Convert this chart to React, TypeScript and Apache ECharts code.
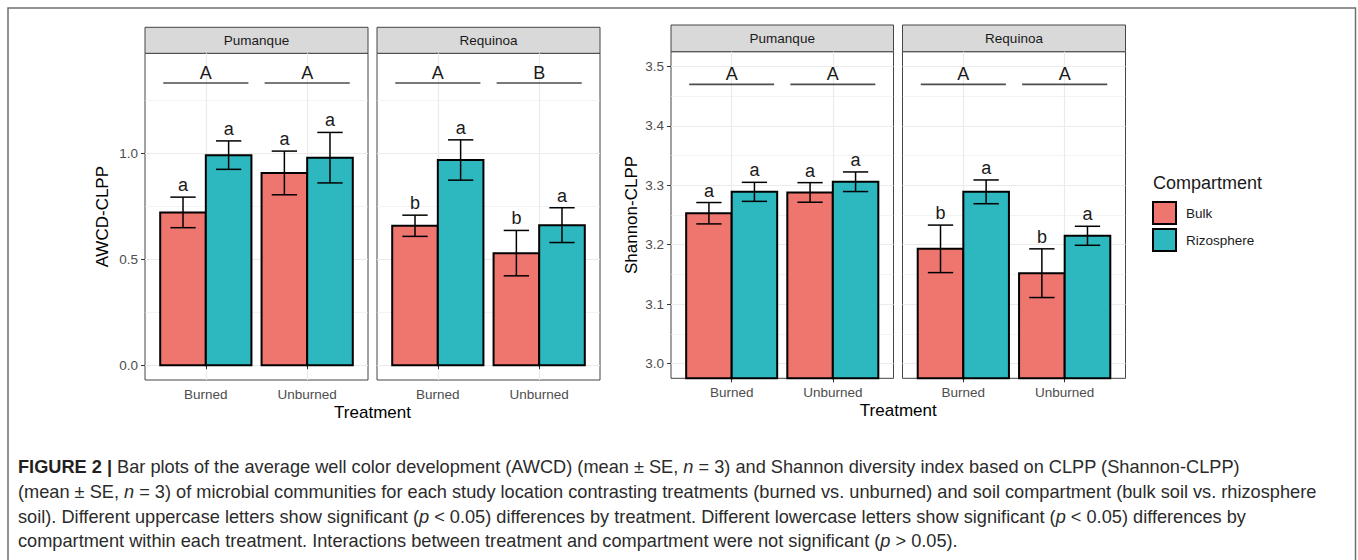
import React, { useEffect, useRef } from "react";
import * as echarts from "echarts";

// ---------- data ----------
const treatments = ["Burned", "Unburned"];
const sites = ["Pumanque", "Requinoa"];
const compartments = ["Bulk", "Rizosphere"];

// AWCD-CLPP: [site][treatment]
const awcdBulkMean = [[0.72, 0.906], [0.657, 0.528]];
const awcdBulkSE = [[0.072, 0.103], [0.05, 0.107]];
const awcdRizoMean = [[0.99, 0.978], [0.967, 0.66]];
const awcdRizoSE = [[0.067, 0.119], [0.095, 0.082]];
const awcdBulkLetters = [["a", "a"], ["b", "b"]];
const awcdRizoLetters = [["a", "a"], ["a", "a"]];
const awcdTreatLetters = [["A", "A"], ["A", "B"]];
const awcdTreatLineY = 1.33;
const awcdTicks = [0, 0.5, 1.0];
const awcdMinor = [0.25, 0.75, 1.25];

// Shannon-CLPP: [site][treatment]
const shanBulkMean = [[3.253, 3.288], [3.193, 3.152]];
const shanBulkSE = [[0.018, 0.0165], [0.04, 0.041]];
const shanRizoMean = [[3.289, 3.306], [3.289, 3.215]];
const shanRizoSE = [[0.016, 0.0165], [0.02, 0.016]];
const shanBulkLetters = [["a", "a"], ["b", "b"]];
const shanRizoLetters = [["a", "a"], ["a", "a"]];
const shanTreatLetters = [["A", "A"], ["A", "A"]];
const shanTreatLineY = 3.47;
const shanTicks = [3.0, 3.1, 3.2, 3.3, 3.4, 3.5];
const shanMinor = [3.05, 3.15, 3.25, 3.35, 3.45];

const captionLines = [
  "{b|FIGURE 2 |} Bar plots of the average well color development (AWCD) (mean ± SE, {i|n} = 3) and Shannon diversity index based on CLPP (Shannon-CLPP)",
  "(mean ± SE, {i|n} = 3) of microbial communities for each study location contrasting treatments (burned vs. unburned) and soil compartment (bulk soil vs. rhizosphere",
  "soil). Different uppercase letters show significant ({i|p} < 0.05) differences by treatment. Different lowercase letters show significant ({i|p} < 0.05) differences by",
  "compartment within each treatment. Interactions between treatment and compartment were not significant ({i|p} > 0.05).",
];

// ---------- styling / layout ----------
const FONT = "'Liberation Sans', Arial, Helvetica, sans-serif";
const CAP_FONT = "'Liberation Sans Narrow', 'Arial Narrow', 'Liberation Sans', sans-serif";
const CAP_SIZE = 18.2;
const BULK_COLOR = "#EF766F";
const RIZO_COLOR = "#2DB7BF";

const charts = [
  {
    yMin: -0.07, yMax: 1.47, ticks: awcdTicks, minor: awcdMinor,
    bulk: awcdBulkMean, bulkSE: awcdBulkSE, rizo: awcdRizoMean, rizoSE: awcdRizoSE,
    bulkL: awcdBulkLetters, rizoL: awcdRizoLetters, treatL: awcdTreatLetters, lineY: awcdTreatLineY,
    panels: [{ left: 145, width: 223 }, { left: 377, width: 223 }],
    top: 53.3, bottom: 380, stripTop: 27.3,
    yTitle: "AWCD-CLPP", yTitleX: 102, xTitleY: 412,
  },
  {
    yMin: 2.975, yMax: 3.525, ticks: shanTicks, minor: shanMinor,
    bulk: shanBulkMean, bulkSE: shanBulkSE, rizo: shanRizoMean, rizoSE: shanRizoSE,
    bulkL: shanBulkLetters, rizoL: shanRizoLetters, treatL: shanTreatLetters, lineY: shanTreatLineY,
    panels: [{ left: 671, width: 222.5 }, { left: 902.5, width: 223 }],
    top: 51.7, bottom: 378.3, stripTop: 25,
    yTitle: "Shannon-CLPP", yTitleX: 631.5, xTitleY: 410,
  },
];

function buildOption() {
  const grid: any[] = [];
  const xAxis: any[] = [];
  const yAxis: any[] = [];
  const series: any[] = [];
  const graphic: any[] = [];

  // figure frame
  graphic.push({
    type: "polyline",
    shape: { points: [[8, 600], [8, 8], [1355.5, 8], [1355.5, 600]] },
    style: { stroke: "#6f6f6f", lineWidth: 1.5, fill: "none" },
    silent: true,
  });

  charts.forEach((c, ci) => {
    c.panels.forEach((p, si) => {
      const gi = ci * 2 + si;
      grid.push({
        left: p.left, top: c.top, width: p.width, height: c.bottom - c.top,
        show: true, backgroundColor: "#ffffff", borderColor: "#444444", borderWidth: 1,
        containLabel: false,
      });
      xAxis.push({
        type: "value", gridIndex: gi, min: 0.4, max: 2.6,
        axisLine: { show: false },
        axisTick: { show: true, customValues: [1, 2], length: 4, lineStyle: { color: "#333", width: 1 } },
        axisLabel: {
          show: true, customValues: [1, 2], margin: 7,
          formatter: (v: number) => treatments[Math.round(v) - 1] ?? "",
          color: "#4d4d4d", fontSize: 13.5, fontFamily: FONT,
        },
        splitLine: { show: true, lineStyle: { color: "#ebebeb", width: 1.2 } },
      });
      const showY = si === 0;
      yAxis.push({
        type: "value", gridIndex: gi, min: c.yMin, max: c.yMax,
        axisLine: { show: false },
        axisTick: { show: showY, customValues: c.ticks, length: 4, lineStyle: { color: "#333", width: 1 } },
        axisLabel: {
          show: showY, customValues: c.ticks, margin: 7,
          formatter: (v: number) => v.toFixed(1),
          color: "#4d4d4d", fontSize: 13.5, fontFamily: FONT,
        },
        splitLine: { show: true, lineStyle: { color: "#ebebeb", width: 1.2 } },
      });
      yAxis.push({
        type: "value", gridIndex: gi, min: c.yMin, max: c.yMax,
        axisLine: { show: false },
        axisTick: { show: false, customValues: c.minor },
        axisLabel: { show: false, customValues: c.minor },
        splitLine: { show: true, lineStyle: { color: "#ebebeb", width: 0.6 } },
      });

      // strip
      graphic.push({
        type: "rect",
        shape: { x: p.left, y: c.stripTop, width: p.width, height: c.top - c.stripTop },
        style: { fill: "#d9d9d9", stroke: "#444444", lineWidth: 1 },
        silent: true,
      });
      graphic.push({
        type: "text",
        x: p.left + p.width / 2, y: (c.stripTop + c.top) / 2,
        style: {
          text: sites[si], fontSize: 13.5, fontFamily: FONT, fill: "#1a1a1a",
          textAlign: "center", textVerticalAlign: "middle", align: "center", verticalAlign: "middle",
        },
        silent: true,
      });

      // bars + error bars + letters per compartment
      compartments.forEach((comp, k) => {
        const means = k === 0 ? c.bulk : c.rizo;
        const ses = k === 0 ? c.bulkSE : c.rizoSE;
        const letters = k === 0 ? c.bulkL : c.rizoL;
        const offset = k === 0 ? -0.225 : 0.225;
        series.push({
          type: "custom",
          name: comp,
          xAxisIndex: gi,
          yAxisIndex: gi * 2,
          itemStyle: { color: k === 0 ? BULK_COLOR : RIZO_COLOR },
          encode: { x: 0, y: 1 },
          data: treatments.map((t, j) => [j + 1, means[si][j], ses[si][j]]),
          z: 3 + k,
          renderItem: (params: any, api: any) => {
            const xc = api.value(0) + offset;
            const m = api.value(1);
            const se = api.value(2);
            const cs = params.coordSys;
            const p0 = api.coord([xc - 0.225, m]);
            const p1 = api.coord([xc + 0.225, 0]);
            const rect = echarts.graphic.clipRectByRect(
              { x: p0[0], y: p0[1], width: p1[0] - p0[0], height: p1[1] - p0[1] },
              { x: cs.x, y: cs.y, width: cs.width, height: cs.height }
            );
            const top = api.coord([xc, m + se]);
            const bot = api.coord([xc, m - se]);
            const wl = api.coord([xc - 0.125, m])[0];
            const wr = api.coord([xc + 0.125, m])[0];
            const ls = { stroke: "#000", lineWidth: 1.5 };
            return {
              type: "group",
              children: [
                rect && {
                  type: "rect",
                  shape: rect,
                  style: { fill: k === 0 ? BULK_COLOR : RIZO_COLOR, stroke: "#000", lineWidth: 2 },
                },
                { type: "line", shape: { x1: top[0], y1: top[1], x2: bot[0], y2: bot[1] }, style: ls },
                { type: "line", shape: { x1: wl, y1: top[1], x2: wr, y2: top[1] }, style: ls },
                { type: "line", shape: { x1: wl, y1: bot[1], x2: wr, y2: bot[1] }, style: ls },
                {
                  type: "text",
                  x: top[0], y: top[1] - 3,
                  style: {
                    text: letters[si][params.dataIndex], fontSize: 18, fontFamily: FONT, fill: "#1a1a1a",
                    textAlign: "center", textVerticalAlign: "bottom", align: "center", verticalAlign: "bottom",
                  },
                },
              ].filter(Boolean),
            };
          },
        });
      });

      // treatment letters with lines
      series.push({
        type: "custom",
        name: "treatment",
        xAxisIndex: gi,
        yAxisIndex: gi * 2,
        encode: { x: 0, y: 1 },
        data: treatments.map((t, j) => [j + 1, c.lineY]),
        z: 5,
        renderItem: (params: any, api: any) => {
          const x = api.value(0);
          const y = api.value(1);
          const a = api.coord([x - 0.42, y]);
          const b = api.coord([x + 0.42, y]);
          const mid = api.coord([x, y]);
          return {
            type: "group",
            children: [
              { type: "line", shape: { x1: a[0], y1: a[1], x2: b[0], y2: b[1] }, style: { stroke: "#4d4d4d", lineWidth: 1.6 } },
              {
                type: "text",
                x: mid[0], y: mid[1] - 1,
                style: {
                  text: c.treatL[si][params.dataIndex], fontSize: 18, fontFamily: FONT, fill: "#1a1a1a",
                  textAlign: "center", textVerticalAlign: "bottom", align: "center", verticalAlign: "bottom",
                },
              },
            ],
          };
        },
      });
    });

    // axis titles
    graphic.push({
      type: "text",
      x: c.yTitleX, y: (c.top + c.bottom) / 2,
      rotation: Math.PI / 2,
      style: {
        text: c.yTitle, fontSize: 17, fontFamily: FONT, fill: "#000",
        textAlign: "center", textVerticalAlign: "middle", align: "center", verticalAlign: "middle",
      },
      silent: true,
    });
    const l = c.panels[0].left;
    const r = c.panels[1].left + c.panels[1].width;
    graphic.push({
      type: "text",
      x: (l + r) / 2, y: c.xTitleY,
      style: {
        text: "Treatment", fontSize: 17, fontFamily: FONT, fill: "#000",
        textAlign: "center", textVerticalAlign: "middle", align: "center", verticalAlign: "middle",
      },
      silent: true,
    });
  });

  // legend title
  graphic.push({
    type: "text",
    x: 1153, y: 183,
    style: {
      text: "Compartment", fontSize: 18, fontFamily: FONT, fill: "#1a1a1a",
      textAlign: "left", textVerticalAlign: "middle", align: "left", verticalAlign: "middle",
    },
    silent: true,
  });

  // caption
  const capY = [467, 492, 516.5, 541];
  captionLines.forEach((line, i) => {
    graphic.push({
      type: "text",
      x: 18, y: capY[i],
      style: {
        text: line, fontSize: CAP_SIZE, fontFamily: CAP_FONT, fill: "#2b2b2b",
        textAlign: "left", textVerticalAlign: "middle", align: "left", verticalAlign: "middle",
        rich: {
          b: { fontSize: CAP_SIZE, fontFamily: CAP_FONT, fontWeight: "bold", fill: "#231f20" },
          i: { fontSize: CAP_SIZE, fontFamily: CAP_FONT, fontStyle: "italic", fill: "#2b2b2b" },
        },
      },
      silent: true,
    });
  });

  return {
    animation: false,
    backgroundColor: "#ffffff",
    grid,
    xAxis,
    yAxis,
    series,
    graphic,
    legend: {
      data: compartments,
      orient: "vertical",
      left: 1152,
      top: 201,
      itemWidth: 23,
      itemHeight: 22,
      itemGap: 3,
      icon: "rect",
      padding: 0,
      selectedMode: false,
      itemStyle: { borderColor: "#000", borderWidth: 2 },
      textStyle: { fontSize: 13.5, color: "#1a1a1a", fontFamily: FONT, padding: [0, 0, 0, 5] },
    },
  };
}

export default function App() {
  const ref = useRef<HTMLDivElement>(null);
  useEffect(() => {
    document.body.style.margin = "0";
    if (!ref.current) return;
    const chart = echarts.init(ref.current, undefined, { renderer: "svg" });
    chart.setOption(buildOption() as any);
    return () => chart.dispose();
  }, []);
  return <div ref={ref} style={{ width: 1358, height: 560 }} />;
}
